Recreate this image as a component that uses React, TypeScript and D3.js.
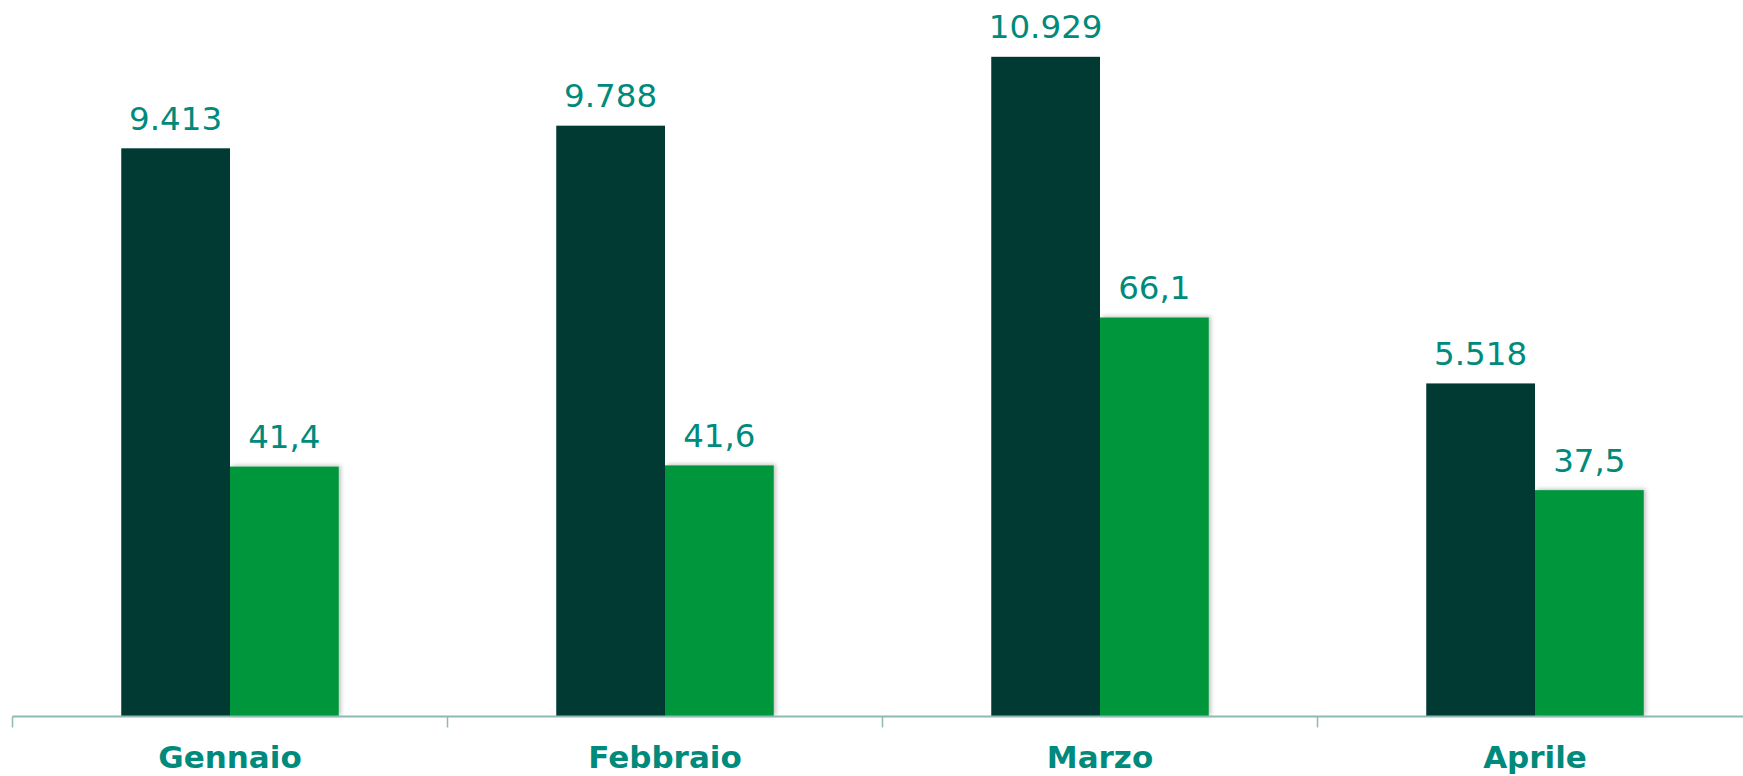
import { useEffect, useRef } from "react"
import * as d3 from "d3"

const months = ["Gennaio", "Febbraio", "Marzo", "Aprile"]
const volumes = [9413, 9788, 10929, 5518]
const shares = [41.4, 41.6, 66.1, 37.5]
const volumeLabels = ["9.413", "9.788", "10.929", "5.518"]
const shareLabels = ["41,4", "41,6", "66,1", "37,5"]

const W = 1743
const H = 776
const baseY = 716.5
const teal = "#008a7b"

export default function App() {
	const ref = useRef<SVGSVGElement>(null)

	useEffect(() => {
		document.body.style.margin = "0"
		const svg = d3.select(ref.current)
		svg.selectAll("*").remove()

		const defs = svg.append("defs")
		const f = defs
			.append("filter")
			.attr("id", "shadow")
			.attr("x", "-20%")
			.attr("y", "-20%")
			.attr("width", "140%")
			.attr("height", "140%")
		f.append("feDropShadow")
			.attr("dx", 2)
			.attr("dy", -1)
			.attr("stdDeviation", 2)
			.attr("flood-color", "#000")
			.attr("flood-opacity", 0.25)

		const x = d3
			.scaleBand()
			.domain(months)
			.range([12.5, 12.5 + 4 * 435])
			.paddingInner(0)
			.paddingOuter(0)

		const sub = d3
			.scaleBand()
			.domain(["vol", "share"])
			.range([0, x.bandwidth()])
			.paddingInner(0)
			.paddingOuter(1)

		const yVol = d3.scaleLinear().domain([0, 11870]).range([baseY, 0])
		const yShare = d3.scaleLinear().domain([0, 118.7]).range([baseY, 0])

		const g = svg.append("g")

		// bars
		g.selectAll("rect.vol")
			.data(months)
			.enter()
			.append("rect")
			.attr("class", "vol")
			.attr("x", (d) => x(d)! + sub("vol")!)
			.attr("y", (d, i) => yVol(volumes[i]))
			.attr("width", sub.bandwidth())
			.attr("height", (d, i) => baseY - yVol(volumes[i]))
			.attr("fill", "#003a33")

		g.selectAll("rect.share")
			.data(months)
			.enter()
			.append("rect")
			.attr("class", "share")
			.attr("x", (d) => x(d)! + sub("share")!)
			.attr("y", (d, i) => yShare(shares[i]))
			.attr("width", sub.bandwidth())
			.attr("height", (d, i) => baseY - yShare(shares[i]))
			.attr("fill", "#00963a")
			.attr("filter", "url(#shadow)")

		// value labels
		g.selectAll("text.vlab")
			.data(months)
			.enter()
			.append("text")
			.attr("class", "vlab")
			.attr("x", (d) => x(d)! + sub("vol")! + sub.bandwidth() / 2)
			.attr("y", (d, i) => yVol(volumes[i]) - 18.5)
			.attr("text-anchor", "middle")
			.attr("font-family", "DejaVu Sans, Verdana, sans-serif")
			.attr("font-size", 32.5)
			.attr("fill", teal)
			.text((d, i) => volumeLabels[i])

		g.selectAll("text.slab")
			.data(months)
			.enter()
			.append("text")
			.attr("class", "slab")
			.attr("x", (d) => x(d)! + sub("share")! + sub.bandwidth() / 2)
			.attr("y", (d, i) => yShare(shares[i]) - 18.5)
			.attr("text-anchor", "middle")
			.attr("font-family", "DejaVu Sans, Verdana, sans-serif")
			.attr("font-size", 32.5)
			.attr("fill", teal)
			.text((d, i) => shareLabels[i])

		// axis
		g.append("line")
			.attr("x1", 12.5)
			.attr("x2", W)
			.attr("y1", baseY)
			.attr("y2", baseY)
			.attr("stroke", "#8fbab2")
			.attr("stroke-width", 2)

		g.selectAll("line.tick")
			.data(months)
			.enter()
			.append("line")
			.attr("class", "tick")
			.attr("x1", (d) => x(d)!)
			.attr("x2", (d) => x(d)!)
			.attr("y1", baseY)
			.attr("y2", baseY + 11)
			.attr("stroke", "#8fbab2")
			.attr("stroke-width", 1.5)

		g.selectAll("text.cat")
			.data(months)
			.enter()
			.append("text")
			.attr("class", "cat")
			.attr("x", (d) => x(d)! + x.bandwidth() / 2)
			.attr("y", 768)
			.attr("text-anchor", "middle")
			.attr("font-family", "DejaVu Sans, Verdana, sans-serif")
			.attr("font-weight", "bold")
			.attr("font-size", 31)
			.attr("fill", teal)
			.text((d) => d)
	}, [])

	return (
		<svg
			ref={ref}
			width={W}
			height={H}
			style={{ display: "block", position: "absolute", left: 0, top: 0, background: "#fff" }}
		></svg>
	)
}
